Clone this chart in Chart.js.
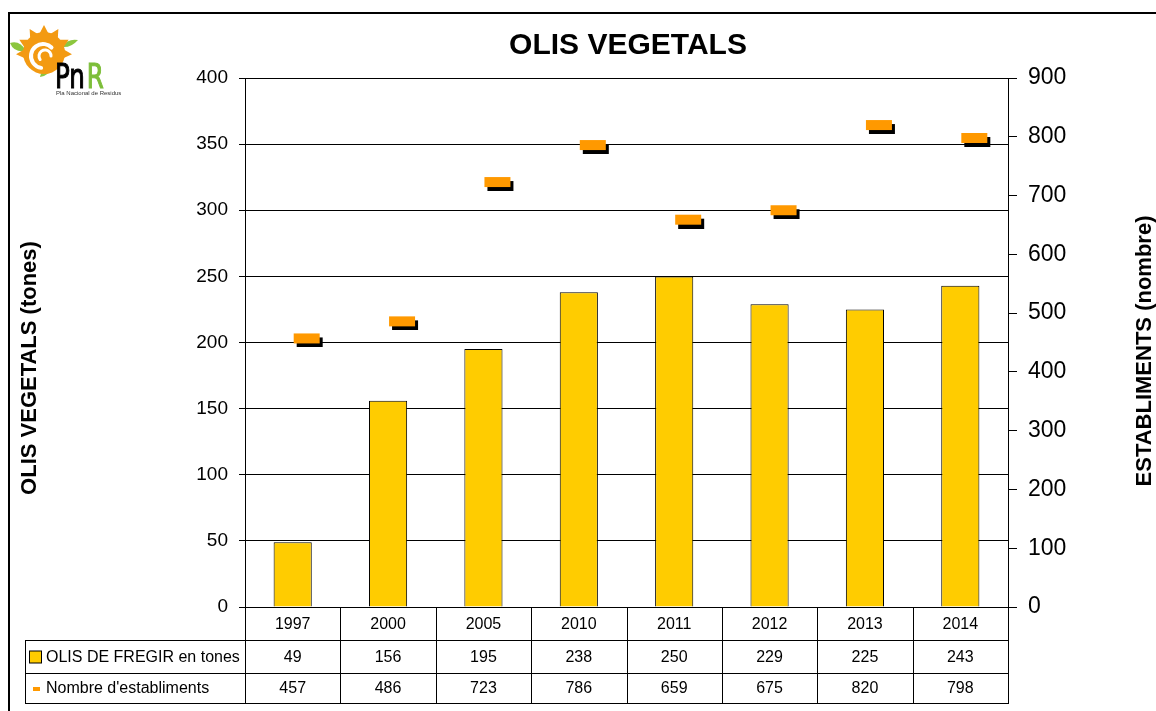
<!DOCTYPE html>
<html>
<head>
<meta charset="utf-8">
<script src="https://cdn.jsdelivr.net/npm/chart.js@4/dist/chart.umd.min.js"></script>
<style>
  html, body { margin: 0; padding: 0; background: #fff; }
  #wrap { width: 1156px; height: 711px; }
</style>
</head>
<body>
<div id="wrap"><canvas id="oilChart" width="1156" height="711"></canvas></div>
<script>
const years = ["1997", "2000", "2005", "2010", "2011", "2012", "2013", "2014"];
const oilTons = [49, 156, 195, 238, 250, 229, 225, 243];
const establishments = [457, 486, 723, 786, 659, 675, 820, 798];
const rowLabels = ["OLIS DE FREGIR en tones", "Nombre d'establiments"];

const FONT = "'Liberation Sans', Arial, sans-serif";
const YELLOW = "#FFCC00";
const ORANGE = "#FF9900";

// orange dash with a black shadow, sitting a little right of the category centre
function makeMarker() {
    const c = document.createElement("canvas");
    c.width = 62;
    c.height = 18;
    const g = c.getContext("2d");
    g.fillStyle = "#000";
    g.fillRect(35, 8, 26, 10);
    g.fillStyle = ORANGE;
    g.fillRect(32, 4, 26, 10);
    return c;
}

function drawLogo(ctx) {
    ctx.save();
    // leaves
    ctx.fillStyle = "#8CC63E";
    ctx.beginPath();
    ctx.moveTo(10, 43); ctx.quadraticCurveTo(20, 40, 26, 51); ctx.quadraticCurveTo(14, 53, 10, 43); ctx.fill();
    ctx.beginPath();
    ctx.moveTo(78, 40); ctx.quadraticCurveTo(71, 48, 62, 47); ctx.quadraticCurveTo(68, 38, 78, 40); ctx.fill();
    ctx.beginPath();
    ctx.moveTo(40, 77); ctx.quadraticCurveTo(41, 70, 50, 68); ctx.quadraticCurveTo(49, 76, 40, 77); ctx.fill();
    // sun body with rays along the top
    const cx = 44, cy = 53;
    ctx.fillStyle = "#F39A12";
    ctx.beginPath();
    ctx.arc(cx, cy, 21, 0, Math.PI * 2);
    ctx.fill();
    ctx.beginPath();
    for (let i = 0; i <= 14; i++) {
        const a = Math.PI * (-1.1 + i * 1.2 / 14);
        const r = i % 2 === 0 ? 19 : 28;
        ctx.lineTo(cx + r * Math.cos(a), cy + r * Math.sin(a));
    }
    ctx.closePath();
    ctx.fill();
    // white curl
    ctx.strokeStyle = "#fff";
    ctx.lineCap = "round";
    ctx.lineWidth = 4;
    ctx.beginPath();
    ctx.arc(cx - 1, cy + 3, 12, Math.PI * 0.55, Math.PI * 1.75);
    ctx.stroke();
    ctx.lineWidth = 3;
    ctx.beginPath();
    ctx.arc(cx + 1, cy + 3, 6, Math.PI * 0.8, Math.PI * 2.0);
    ctx.stroke();
    // letters
    ctx.textAlign = "left";
    ctx.textBaseline = "alphabetic";
    ctx.save();
    ctx.translate(55, 88);
    ctx.scale(0.72, 1);
    ctx.font = "34px 'DejaVu Sans', sans-serif";
    ctx.fillStyle = "#000";
    ctx.lineWidth = 1.2;
    ctx.strokeStyle = "#000";
    ctx.fillText("Pn", 0, 0);
    ctx.strokeText("Pn", 0, 0);
    ctx.fillStyle = "#7DBE3A";
    ctx.strokeStyle = "#7DBE3A";
    ctx.fillText("R", 44, 0);
    ctx.strokeText("R", 44, 0);
    ctx.restore();
    ctx.fillStyle = "#333";
    ctx.font = "6px " + FONT;
    ctx.fillText("Pla Nacional de Residus", 56, 95);
    ctx.restore();
}

const decorPlugin = {
    id: "decor",
    beforeDraw(chart) {
        const ctx = chart.ctx;
        ctx.save();
        ctx.fillStyle = "#fff";
        ctx.fillRect(0, 0, chart.width, chart.height);
        ctx.restore();
    },
    afterDraw(chart) {
        const ctx = chart.ctx;
        const area = chart.chartArea;
        const xs = chart.scales.x;
        ctx.save();

        // outer frame
        ctx.strokeStyle = "#000";
        ctx.lineWidth = 2;
        ctx.strokeRect(9, 13, 1300, 900);

        // title
        ctx.fillStyle = "#000";
        ctx.font = "bold 30px " + FONT;
        ctx.textAlign = "center";
        ctx.textBaseline = "alphabetic";
        ctx.fillText("OLIS VEGETALS", 628, 54);

        // axis titles
        ctx.font = "bold 22px " + FONT;
        ctx.save();
        ctx.translate(36, 368);
        ctx.rotate(-Math.PI / 2);
        ctx.fillText("OLIS VEGETALS (tones)", 0, 0);
        ctx.restore();
        ctx.save();
        ctx.translate(1151, 351);
        ctx.rotate(-Math.PI / 2);
        ctx.fillText("ESTABLIMENTS (nombre)", 0, 0);
        ctx.restore();

        drawLogo(ctx);

        // data table
        const step = (area.right - area.left) / years.length;
        const top = Math.round(area.bottom);
        const r1 = top + 33, r2 = r1 + 33, r3 = r2 + 30;
        const left = 25;
        ctx.strokeStyle = "#000";
        ctx.lineWidth = 1;
        ctx.beginPath();
        for (let i = 0; i <= years.length; i++) {
            const x = Math.round(area.left + i * step) + 0.5;
            ctx.moveTo(x, top);
            ctx.lineTo(x, r3);
        }
        [r1, r2, r3].forEach(y => {
            ctx.moveTo(left, y + 0.5);
            ctx.lineTo(Math.round(area.right) + 1, y + 0.5);
        });
        ctx.moveTo(left + 0.5, r1);
        ctx.lineTo(left + 0.5, r3);
        ctx.stroke();

        ctx.font = "16px " + FONT;
        ctx.textAlign = "center";
        ctx.textBaseline = "middle";
        years.forEach((yr, i) => {
            const x = xs.getPixelForValue(i);
            ctx.fillText(yr, x, (top + r1) / 2 + 1);
            ctx.fillText(String(oilTons[i]), x, (r1 + r2) / 2 + 1);
            ctx.fillText(String(establishments[i]), x, (r2 + r3) / 2 + 1);
        });

        // row labels with legend keys
        ctx.textAlign = "left";
        ctx.fillStyle = YELLOW;
        ctx.fillRect(29.5, (r1 + r2) / 2 - 5.5, 12, 12);
        ctx.strokeRect(29.5, (r1 + r2) / 2 - 5.5, 12, 12);
        ctx.fillStyle = ORANGE;
        ctx.fillRect(33, (r2 + r3) / 2 - 1, 7, 4);
        ctx.fillStyle = "#000";
        ctx.fillText(rowLabels[0], 46, (r1 + r2) / 2 + 1);
        ctx.fillText(rowLabels[1], 46, (r2 + r3) / 2 + 1);

        ctx.restore();
    }
};

const ctx = document.getElementById("oilChart").getContext("2d");
const chart = new Chart(ctx, {
    data: {
        labels: years,
        datasets: [
            {
                type: "line",
                label: rowLabels[1],
                data: establishments,
                yAxisID: "y1",
                showLine: false,
                pointStyle: makeMarker(),
                pointRadius: 10,
                order: 0
            },
            {
                type: "bar",
                label: rowLabels[0],
                data: oilTons,
                yAxisID: "y",
                backgroundColor: YELLOW,
                borderColor: "#000",
                borderWidth: 1,
                barPercentage: 0.4,
                categoryPercentage: 1,
                order: 1
            }
        ]
    },
    options: {
        responsive: false,
        animation: false,
        layout: { padding: { left: 0, right: 0, top: 78, bottom: 104 } },
        plugins: {
            legend: { display: false },
            tooltip: { enabled: false },
            title: { display: false }
        },
        scales: {
            x: { display: false, offset: true },
            y: {
                position: "left",
                min: 0,
                max: 400,
                ticks: { stepSize: 50, color: "#000", padding: 11, font: { family: FONT, size: 19 } },
                grid: { color: "#000", lineWidth: 1, tickLength: 6 },
                border: { display: true, color: "#000", width: 1 },
                afterFit: s => { s.width = 245; }
            },
            y1: {
                position: "right",
                min: 0,
                max: 900,
                ticks: { stepSize: 100, color: "#000", padding: 11, font: { family: FONT, size: 23 } },
                grid: { drawOnChartArea: false, color: "#000", tickLength: 9 },
                border: { display: true, color: "#000", width: 1 },
                afterFit: s => { s.width = 148; }
            }
        }
    },
    plugins: [decorPlugin]
});
</script>
</body>
</html>
